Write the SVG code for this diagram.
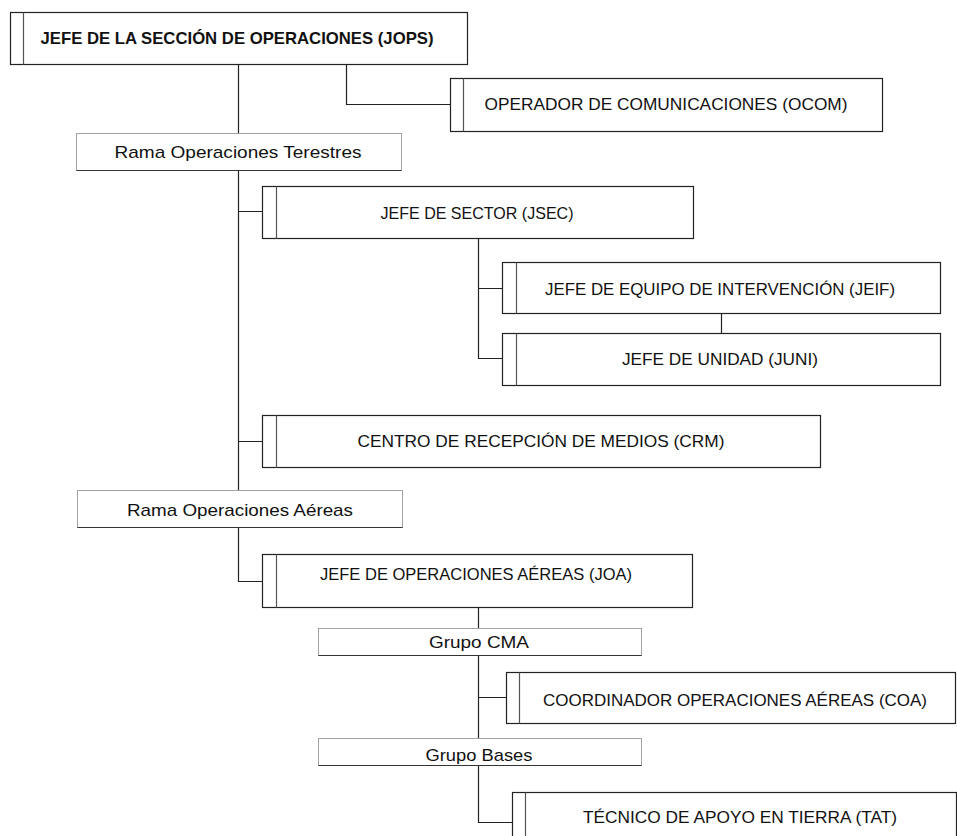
<svg xmlns="http://www.w3.org/2000/svg" width="957" height="836" viewBox="0 0 957 836">
<style>
.box{fill:#fff;stroke:#222;stroke-width:1.2}
.div{stroke:#555;stroke-width:1.2}
.grp{fill:#fff;stroke:#444;stroke-width:1;stroke-dasharray:1 1}
.grpb{stroke:#333;stroke-width:1.2}
.t{font-family:"Liberation Sans",Arial,sans-serif;font-size:17px;fill:#111;text-anchor:middle}
.b{font-weight:bold}
.c{fill:none;stroke:#222;stroke-width:1.2}
</style>
<rect width="957" height="836" fill="#fff"/>
<g id="connectors">
<path class="c" d="M238.5,64V133M238.5,170V490M238.5,528V581.5H262"/>
<path class="c" d="M346.5,64V104.5H450"/>
<path class="c" d="M238.5,211.5H262M238.5,441.5H262"/>
<path class="c" d="M478.5,238V358.5H502M478.5,288.5H502"/>
<path class="c" d="M721.5,313V333"/>
<path class="c" d="M478.5,607V628M478.5,656V738M478.5,697.5H506M478.5,765V822.5H512"/>
</g>
<g id="jops"><rect class="box" x="10.5" y="12.5" width="457" height="52"/><line class="div" x1="23.5" y1="12.5" x2="23.5" y2="64.5"/><text class="t b" x="237" y="44" textLength="393" lengthAdjust="spacingAndGlyphs">JEFE DE LA SECCIÓN DE OPERACIONES (JOPS)</text></g>
<g id="ocom"><rect class="box" x="450.5" y="78.5" width="432" height="53"/><line class="div" x1="463.5" y1="78.5" x2="463.5" y2="131.5"/><text class="t" x="666" y="110" textLength="363" lengthAdjust="spacingAndGlyphs">OPERADOR DE COMUNICACIONES (OCOM)</text></g>
<g id="rama-terrestres"><rect class="grp" x="76.5" y="133.5" width="325" height="37"/><line class="grpb" x1="76.5" y1="170.5" x2="401.5" y2="170.5"/><text class="t" x="238" y="158" textLength="247" lengthAdjust="spacingAndGlyphs">Rama Operaciones Terestres</text></g>
<g id="jsec"><rect class="box" x="262.5" y="186.5" width="431" height="52"/><line class="div" x1="276.5" y1="186.5" x2="276.5" y2="238.5"/><text class="t" x="477" y="219" textLength="193" lengthAdjust="spacingAndGlyphs">JEFE DE SECTOR (JSEC)</text></g>
<g id="jeif"><rect class="box" x="502.5" y="262.5" width="438" height="51"/><line class="div" x1="516.5" y1="262.5" x2="516.5" y2="313.5"/><text class="t" x="720" y="295" textLength="350" lengthAdjust="spacingAndGlyphs">JEFE DE EQUIPO DE INTERVENCIÓN (JEIF)</text></g>
<g id="juni"><rect class="box" x="502.5" y="333.5" width="438" height="52"/><line class="div" x1="516.5" y1="333.5" x2="516.5" y2="385.5"/><text class="t" x="720" y="365" textLength="196" lengthAdjust="spacingAndGlyphs">JEFE DE UNIDAD (JUNI)</text></g>
<g id="crm"><rect class="box" x="262.5" y="415.5" width="558" height="52"/><line class="div" x1="276.5" y1="415.5" x2="276.5" y2="467.5"/><text class="t" x="541" y="447" textLength="367" lengthAdjust="spacingAndGlyphs">CENTRO DE RECEPCIÓN DE MEDIOS (CRM)</text></g>
<g id="rama-aereas"><rect class="grp" x="77.5" y="490.5" width="325" height="37"/><line class="grpb" x1="77.5" y1="527.5" x2="402.5" y2="527.5"/><text class="t" x="240" y="516" textLength="226" lengthAdjust="spacingAndGlyphs">Rama Operaciones Aéreas</text></g>
<g id="joa"><rect class="box" x="262.5" y="554.5" width="430" height="53"/><line class="div" x1="276.5" y1="554.5" x2="276.5" y2="607.5"/><text class="t" x="476" y="580" textLength="312" lengthAdjust="spacingAndGlyphs">JEFE DE OPERACIONES AÉREAS (JOA)</text></g>
<g id="grupo-cma"><rect class="grp" x="318.5" y="628.5" width="323" height="27"/><line class="grpb" x1="318.5" y1="655.5" x2="641.5" y2="655.5"/><text class="t" x="479" y="648" textLength="100" lengthAdjust="spacingAndGlyphs">Grupo CMA</text></g>
<g id="coa"><rect class="box" x="506.5" y="672.5" width="449" height="51"/><line class="div" x1="519.5" y1="672.5" x2="519.5" y2="723.5"/><text class="t" x="735" y="706" textLength="384" lengthAdjust="spacingAndGlyphs">COORDINADOR OPERACIONES AÉREAS (COA)</text></g>
<g id="grupo-bases"><rect class="grp" x="318.5" y="738.5" width="323" height="27"/><line class="grpb" x1="318.5" y1="765.5" x2="641.5" y2="765.5"/><text class="t" x="479" y="761" textLength="107" lengthAdjust="spacingAndGlyphs">Grupo Bases</text></g>
<g id="tat"><rect class="box" x="512.5" y="792.5" width="444" height="60"/><line class="div" x1="525.5" y1="792.5" x2="525.5" y2="836"/><text class="t" x="740" y="823" textLength="314" lengthAdjust="spacingAndGlyphs">TÉCNICO DE APOYO EN TIERRA (TAT)</text></g>
</svg>
